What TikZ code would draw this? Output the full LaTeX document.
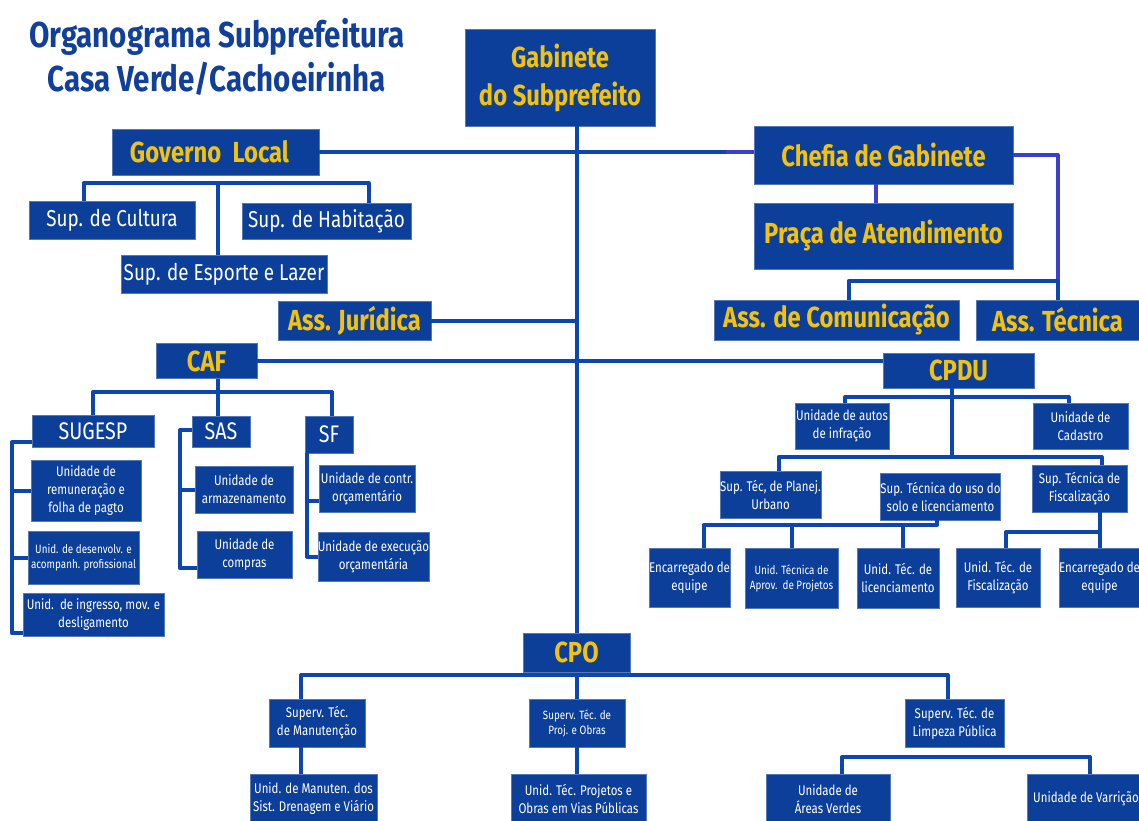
\documentclass[tikz,border=0pt]{standalone}
\usepackage{fontspec}
\setmainfont{Fira Sans}[FakeStretch=0.82]
\usepackage{tikz}
\definecolor{boxblue}{HTML}{0C3F99}
\definecolor{gold}{HTML}{F4C20D}
\definecolor{linkblue}{HTML}{0B47AE}
\definecolor{linkpurple}{HTML}{3B3FD0}
\definecolor{titleblue}{HTML}{113F9C}

\begin{document}
\begin{tikzpicture}[x=1pt, y=-1pt,
  box/.style={draw=boxblue!70!white, line width=0.6pt, fill=boxblue, inner sep=0pt, align=center},
  wh/.style 2 args={minimum width=#1pt, minimum height=#2pt},
  head/.style={box, text=gold, font=\bfseries\fontsize{29}{38}\selectfont},
  sup/.style={box, text=white, font=\fontsize{23}{26}\selectfont},
  subhead/.style={box, text=white, font=\fontsize{24}{28}\selectfont},
  unit/.style={box, text=white, font=\fontsize{14}{18}\selectfont},
  tiny/.style={box, text=white, font=\fontsize{12}{15}\selectfont},
  link/.style={draw=linkblue, line width=4pt, line join=round},
  link2/.style={draw=linkpurple, line width=4pt, line join=round}]
  \fill[white] (0,0) rectangle (1139,820);
  \useasboundingbox (0,0) rectangle (1139,820);

  \node[text=titleblue, align=center, font=\bfseries\fontsize{36}{44}\selectfont] (title) at (217,57)
    {Organograma Subprefeitura\\Casa Verde/Cachoeirinha};

  % top level
  \node[head, wh={190}{97}] (gab) at (560,77.5) {Gabinete\\do Subprefeito};
  \node[head, wh={207}{46}] (gov) at (215.5,152) {Governo\ \ Local\hspace{12pt}};
  \node[head, wh={259}{58}] (chefia) at (883.5,155) {Chefia de Gabinete};
  \node[head, wh={259}{66}] (praca) at (883.5,236) {Praça de Atendimento};
  \node[head, wh={245}{40}] (com) at (836.5,320) {Ass. de Comunicação};
  \node[head, wh={163}{40}] (tec) at (1057.5,320) {Ass. Técnica};
  \node[head, wh={153}{39}] (jur) at (354.5,320.5) {Ass. Jurídica};
  \node[sup, wh={166}{38}] (cult) at (112,220) {Sup. de Cultura};
  \node[sup, wh={169}{36}] (hab) at (326.5,221) {Sup. de Habitação};
  \node[sup, wh={206}{38}] (esp) at (224,274) {Sup. de Esporte e Lazer};
  \node[head, wh={101}{35}] (caf) at (206.5,361) {CAF};
  \node[head, wh={151}{35}] (cpdu) at (958.5,370.5) {CPDU};
  \node[head, wh={107}{39}] (cpo) at (576.5,652.5) {CPO};

  % CAF
  \node[subhead, wh={122}{32}] (sug) at (93,431) {SUGESP};
  \node[subhead, wh={58}{31}] (sas) at (221,431.5) {SAS};
  \node[subhead, wh={48}{37}] (sf) at (329,434.5) {SF};
  \node[unit, wh={110}{61}] (rem) at (86,490.5) {Unidade de\\remuneração e\\folha de pagto};
  \node[tiny, wh={111}{53}] (desenv) at (83.5,557.5) {Unid. de desenvolv. e\\acompanh. profissional};
  \node[unit, wh={141}{43}] (ingr) at (93.5,614.5) {Unid.\ \ de ingresso, mov. e\\desligamento};
  \node[unit, wh={98}{47}] (armaz) at (244,489.5) {Unidade de\\armazenamento};
  \node[unit, wh={95}{47}] (compras) at (244.5,554.5) {Unidade de\\compras};
  \node[unit, wh={96}{47}] (contr) at (367,488.5) {Unidade de contr.\\orçamentário};
  \node[unit, wh={109}{49}] (exec) at (373.5,556.5) {Unidade de execução\\orçamentária};

  % CPDU
  \node[unit, wh={94}{46}] (autos) at (842,426) {Unidade de autos\\de infração};
  \node[unit, wh={95}{46}] (cad) at (1080.5,426) {Unidade de\\Cadastro};
  \node[unit, wh={99}{47}] (planej) at (770.5,494.5) {Sup. Téc, de Planej.\\Urbano};
  \node[unit, wh={115}{47}] (uso) at (940.5,496.5) {Sup. Técnica do uso do\\solo e licenciamento};
  \node[unit, wh={95}{47}] (fisc) at (1079.5,488.5) {Sup. Técnica de\\Fiscalização};
  \node[unit, wh={79}{59}] (enc1) at (689.5,577.5) {Encarregado de\\equipe};
  \node[tiny, wh={93}{60}] (aprov) at (791.5,578) {Unid. Técnica de\\Aprov.\ \ de Projetos};
  \node[unit, wh={82}{60}] (lic) at (898,578) {Unid. Téc. de\\licenciamento};
  \node[unit, wh={84}{59}] (ufisc) at (998,577.5) {Unid. Téc. de\\Fiscalização};
  \node[unit, wh={79}{59}] (enc2) at (1099.5,577.5) {Encarregado de\\equipe};

  % CPO
  \node[unit, wh={96}{48}] (manut) at (317,723) {Superv. Téc.\\de Manutenção};
  \node[tiny, wh={96}{48}] (proj) at (577,723) {Superv. Téc. de\\Proj. e Obras};
  \node[unit, wh={99}{48}] (limp) at (954.5,723) {Superv. Téc. de\\Limpeza Pública};
  \node[unit, wh={127}{50}] (dren) at (313.5,799) {Unid. de Manuten. dos\\Sist. Drenagem e Viário};
  \node[unit, wh={135}{50}] (vias) at (578.5,799) {Unid. Téc. Projetos e\\Obras em Vias Públicas};
  \node[unit, wh={124}{50}] (verdes) at (828,799) {Unidade de\\Áreas Verdes};
  \node[unit, wh={118}{50}] (varr) at (1086,799) {Unidade de Varrição};

  % connectors
  \coordinate (cw) at (gov.east -| chefia.west);
  \coordinate (gbar) at (218,183);
  \coordinate (cbar) at (1057.5,281);
  \coordinate (cafbar) at (218,392);
  \coordinate (sgx) at (12,442);
  \coordinate (sax) at (180,430);
  \coordinate (sfx) at (307,453);
  \coordinate (sfb) at (307,501);
  \coordinate (cp1) at (952,397);
  \coordinate (cp2) at (952,457);
  \coordinate (ubar) at (937,525);
  \coordinate (fbar) at (1100,532);
  \coordinate (cpobar) at (576.5,675);
  \coordinate (lbar) at (1090,757);

  \draw[link] (gab.south -| cpo.north) -- (cpo.north);
  \draw[link] (gov.east) -- (cw);
  \draw[link2] ([xshift=-28pt]cw) -- (cw);
  \draw[link] (jur.east) -- (jur.east -| cpo.north);
  \draw[link] (caf.east) -- (caf.east -| cpdu.west);

  \draw[link] ([xshift=-28pt]cult.north) |- (gbar) -| ([xshift=42pt]hab.north);
  \draw[link] (gbar) -- (gbar |- esp.north);

  \draw[link2] ([xshift=-8pt]chefia.south) -- ([xshift=-8pt]praca.north);
  \draw[link2] (chefia.east) -| (cbar);
  \draw[link] ([xshift=12pt]com.north) |- (cbar) -- (tec.north);

  \draw[link] (cafbar |- caf.south) -- (cafbar);
  \draw[link] (sug.north) |- (cafbar) -| ([xshift=3pt]sf.north);
  \draw[link] (cafbar) -- (cafbar |- sas.north);
  \draw[link] (sgx -| sug.west) -- (sgx) |- ([yshift=3pt]ingr.south west);
  \draw[link] (rem.west) -- (rem.west -| sgx);
  \draw[link] (desenv.west) -- (desenv.west -| sgx);
  \draw[link] (sax -| sas.west) -- (sax) |- ([yshift=10pt]compras.south west);
  \draw[link] (armaz.west) -- (armaz.west -| sax);
  \draw[link] (sfx) |- (exec.west);
  \draw[link] (sfb) -- (sfb -| contr.west);

  \draw[link] (cp1 |- cpdu.south) -- (cp2);
  \draw[link] ([xshift=3pt]autos.north) |- (cp1) -| ([xshift=-12pt]cad.north);
  \draw[link] ([xshift=8pt]planej.north) |- (cp2) -| ([xshift=22pt]fisc.north);
  \draw[link] (ubar |- uso.south) -- (ubar) -| ([xshift=14pt]enc1.north);
  \draw[link] (aprov.north) -- (aprov.north |- ubar);
  \draw[link] ([xshift=5pt]lic.north) -- ([xshift=5pt]lic.north |- ubar);
  \draw[link] (fbar |- fisc.south) -- (fbar |- enc2.north);
  \draw[link] (fbar) -| ([xshift=8pt]ufisc.north);

  \draw[link] ([xshift=-16pt]manut.north) |- (cpobar) -| ([xshift=-7pt]limp.north);
  \draw[link] (cpobar) -- (cpobar |- proj.north);
  \draw[link] ([xshift=-16pt]manut.south) -- ([xshift=-12.5pt]dren.north);
  \draw[link] (proj.south) -- (proj.south |- vias.north);
  \draw[link] ([xshift=14pt]verdes.north) |- (lbar) -- (lbar |- varr.north);
\end{tikzpicture}
\end{document}
